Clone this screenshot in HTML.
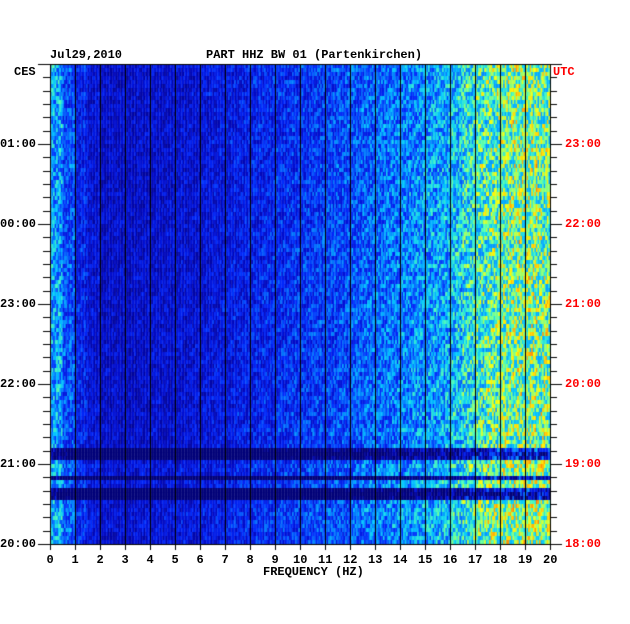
<!DOCTYPE html>
<html><head><meta charset="utf-8">
<style>
body{margin:0;background:#fff;width:630px;height:624px;overflow:hidden;position:relative;font-family:"Liberation Mono",monospace;font-weight:bold;font-size:12px}
.t{position:absolute;white-space:nowrap;line-height:12px}
.r{color:#f00}
</style></head><body>
<div class="t" style="left:50px;top:49px">Jul29,2010</div>
<div class="t" style="left:206px;top:49px">PART HHZ BW 01 (Partenkirchen)</div>
<div class="t" style="left:14px;top:66px">CES</div>
<div class="t r" style="left:553px;top:66px">UTC</div>
<div class="t" style="left:263px;top:566px">FREQUENCY (HZ)</div>
<canvas id="c" width="630" height="624" style="position:absolute;left:0;top:0"></canvas>
<div id="labels"></div>
<script>
const freqTicks=[0,1,2,3,4,5,6,7,8,9,10,11,12,13,14,15,16,17,18,19,20];
const leftHours=["20:00","21:00","22:00","23:00","00:00","01:00"];
const rightHours=["18:00","19:00","20:00","21:00","22:00","23:00"];
// spectral level per 0.5 Hz band (0..1)
const colLevel=[0.40,0.28,0.20,0.15,0.13,0.13,0.13,0.14,0.14,0.14,0.15,0.15,0.16,0.17,0.18,0.19,0.20,0.21,0.22,0.23,0.24,0.25,0.26,0.27,0.29,0.31,0.32,0.34,0.35,0.37,0.39,0.41,0.45,0.50,0.55,0.58,0.60,0.62,0.62,0.60];
// time offset per 4px row, top (02:00) to bottom (20:00)
const rowLevel=[0.03,0.02,0,0,0.02,0,0,0.02,0,0,0,0.02,0,0,0,0.02,0,0,0,0.01,
0,0.02,0,0,0,0.02,0,0,0,0.01,0,0,0.02,0,0,0,0.01,0,0,0,
0,0,0.02,0,0,0,0.01,0,0,0,0.02,0,0,0.02,0,0,0,0,0.02,0,
0,0.02,0,0,0.01,0,0,0.02,0,0,0,0,0.02,0,0,0,0.02,0,0,0,
0,0.02,0,0,0.01,0,0,0.02,0,0,0,0.03,0.02,0,0,0,-0.35,-0.4,-0.35,0.02,
0.05,0.03,0.02,-0.4,0.05,0.03,-0.4,-0.45,-0.4,0.03,0.02,0.04,0.05,0.04,0.05,0.04,0.03,0.02,0.03,0.02];
const X0=50,X1=550,Y0=64,Y1=544;
const fx=f=>X0+(f/20)*(X1-X0);
const ty=h=>Y1-(h/6)*(Y1-Y0); // hours since 20:00
const ctx=document.getElementById('c').getContext('2d');
function jet(v){v=Math.max(0,Math.min(1,v));const s=[[0,0,0,120],[0.12,0,10,200],[0.22,0,40,250],[0.42,0,200,255],[0.55,80,255,180],[0.7,255,255,0],[0.85,255,120,0],[1,200,0,0]];
for(let i=1;i<s.length;i++)if(v<=s[i][0]){const a=s[i-1],b=s[i],t=(v-a[0])/(b[0]-a[0]);return `rgb(${a[1]+(b[1]-a[1])*t|0},${a[2]+(b[2]-a[2])*t|0},${a[3]+(b[3]-a[3])*t|0})`;}return 'rgb(200,0,0)';}
function tex(c,r){let h=(c*374761393+r*668265263)>>>0;h=((h^(h>>>13))*1274126177)>>>0;return ((h&1023)/1023-0.5);}
const nSub=8,rowH=(Y1-Y0)/rowLevel.length;
for(let r=0;r<rowLevel.length;r++){
 for(let c=0;c<colLevel.length*nSub;c++){
  const base=colLevel[Math.floor(c/nSub)];
  let v=base+rowLevel[r]*(0.5+base)+tex(c,r)*(0.08+base*0.6);
  const x=fx(c*0.5/nSub),w=fx((c+1)*0.5/nSub)-x;
  ctx.fillStyle=jet(v);ctx.fillRect(x,Y0+r*rowH,w+0.3,rowH+0.3);
 }
}
ctx.fillStyle='#000';
for(const f of freqTicks){const x=Math.round(fx(f));if(f>0&&f<20)ctx.fillRect(x,Y0,1,Y1-Y0);ctx.fillRect(x,Y1,1,6);}
ctx.strokeStyle='#000';ctx.lineWidth=1;ctx.strokeRect(X0+0.5,Y0+0.5,X1-X0,Y1-Y0);
for(let m=0;m<=36;m++){const y=Math.round(ty(m/6));const big=m%6==0;
 ctx.fillRect(big?38:43,y,big?12:7,1);ctx.fillRect(X1,y,big?12:7,1);}
const L=document.getElementById('labels');
freqTicks.forEach(f=>{const d=document.createElement('div');d.className='t';d.textContent=f;


d.style.left=(fx(f)-(f>=10?7:3.5))+'px';d.style.top='554px';L.appendChild(d);});
leftHours.forEach((h,i)=>{const d=document.createElement('div');d.className='t';d.textContent=h;


d.style.left='0px';d.style.top=(ty(i)-6)+'px';L.appendChild(d);});
rightHours.forEach((h,i)=>{const d=document.createElement('div');d.className='t r';d.textContent=h;


d.style.left='565px';d.style.top=(ty(i)-6)+'px';L.appendChild(d);});
</script>
</body></html>
